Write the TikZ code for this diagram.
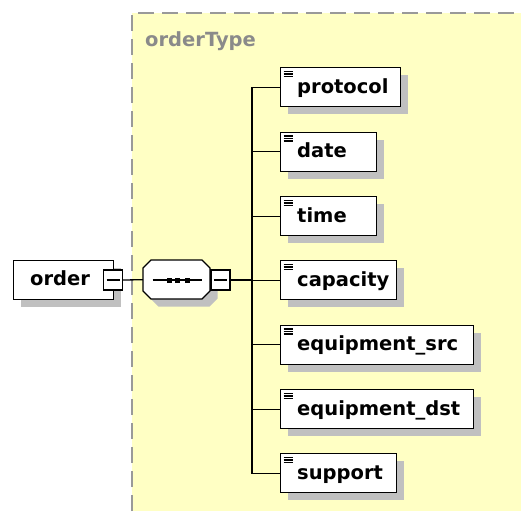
\documentclass[tikz,border=0pt]{standalone}
\usepackage{fontspec}
\setmainfont{DejaVu Sans}
\usetikzlibrary{shadows}
\definecolor{typebg}{HTML}{FFFFC4}
\definecolor{typeedge}{HTML}{999999}
\definecolor{shadowgray}{HTML}{C0C0C0}
\definecolor{typelabel}{HTML}{8A8A8A}

\begin{document}
\begin{tikzpicture}[x=1pt,y=-1pt,
  box/.style={draw=black, line width=1.3pt, fill=white, rectangle, inner sep=0pt,
    minimum height=39pt, anchor=north west,
    general shadow={fill=shadowgray, shadow xshift=7.5pt, shadow yshift=-7.5pt}},
  elemtext/.style={anchor=base west, inner sep=0pt,
    font=\fontsize{19.5}{20}\selectfont\bfseries},
  toggle/.style={draw=black, line width=1.3pt, fill=white, rectangle,
    minimum width=19pt, minimum height=20pt, inner sep=0pt},
  conn/.style={line width=1.3pt},
]
\useasboundingbox (0,0) rectangle (521,511);

% complex type area
\fill[typebg] (132,13) rectangle (521,511);
\draw[typeedge, line width=1.3pt, dash pattern=on 16pt off 8pt]
  (132,511) -- (132,13) -- (521,13);
\node[elemtext, text=typelabel] (typename) at (145,46) {orderType};

% root element
\node[box, minimum width=100pt] (order) at (13,259.5) {};
\node[elemtext] at ([shift={(17,26)}]order.north west) {order};
\node[toggle] (ordertog) at (113,280) {};
\draw[line width=1.1pt] ([xshift=-6.5pt]ordertog.center) -- ([xshift=6.5pt]ordertog.center);

% sequence compositor
\node[minimum width=67pt, minimum height=39pt, inner sep=0pt, anchor=north west] (seq) at (143,260) {};
\begin{scope}[shift={(143,260)}]
  \fill[shadowgray, shift={(7.5,7.5)}]
    (0,8) -- (8,0) -- (59,0) -- (67,8) -- (67,31) -- (59,39) -- (8,39) -- (0,31) -- cycle;
  \filldraw[fill=white, draw=black, line width=1.3pt]
    (0,8) -- (8,0) -- (59,0) -- (67,8) -- (67,31) -- (59,39) -- (8,39) -- (0,31) -- cycle;
  \draw[line width=1.2pt] (9.5,20) -- (58.5,20);
  \foreach \dx in {26,34,44} \fill (\dx-2.5,17.5) rectangle (\dx+2.5,22.5);
\end{scope}
\node[toggle] (seqtog) at (220.5,280) {};
\draw[line width=1.1pt] ([xshift=-6.5pt]seqtog.center) -- ([xshift=6.5pt]seqtog.center);

% child elements
\foreach \n/\t/\w/\y in {protocol/protocol/120/67, date/date/96/131.5,
    time/time/96/196, capacity/capacity/116/260,
    esrc/equipment\_src/193/324.5, edst/equipment\_dst/193/389,
    support/support/116/453} {
  \node[box, minimum width=\w pt] (\n) at (280,\y) {};
  \node[elemtext] at ([shift={(17,26)}]\n.north west) {\t};
  \foreach \dy in {4.5,7,9.5}
    \draw[line width=1.1pt] ([shift={(3.5,\dy)}]\n.north west) -- ++(9.5,0);
}

% connectors
\draw[conn] (ordertog.east) -- (seq.west);
\coordinate (fork) at (252,280);
\draw[conn] (seqtog.east) -- (fork);
\foreach \n in {protocol,date,time,capacity,esrc,edst,support}
  \draw[conn] (fork) |- (\n.west);
\end{tikzpicture}
\end{document}
